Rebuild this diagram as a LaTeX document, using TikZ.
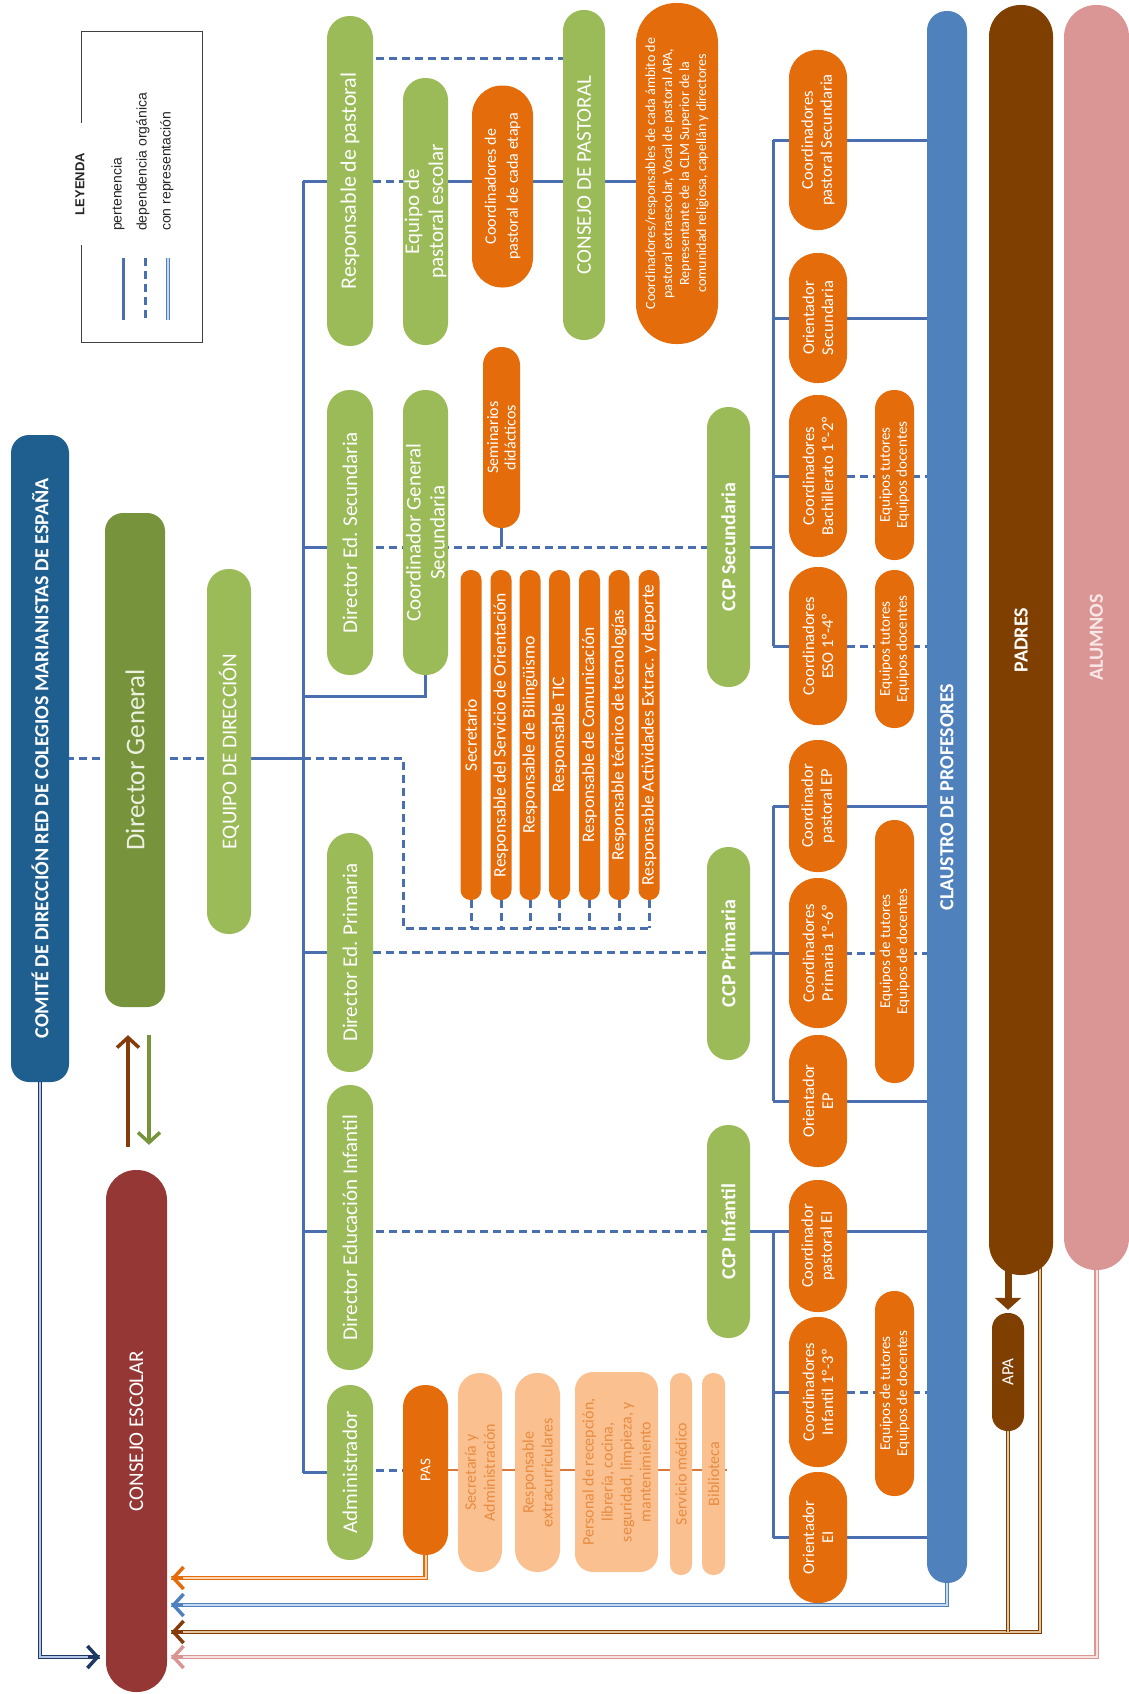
\documentclass[tikz,border=0pt]{standalone}
\usepackage{fontspec}
\setmainfont{Carlito}
\newfontfamily\legfont{Liberation Sans}
\usetikzlibrary{arrows.meta,calc,backgrounds}
\definecolor{comite}{HTML}{1F5F8F}
\definecolor{dgreen}{HTML}{77933C}
\definecolor{lgreen}{HTML}{9BBB59}
\definecolor{orng}{HTML}{E46C0A}
\definecolor{peach}{HTML}{FAC090}
\definecolor{peachtxt}{HTML}{E98B3F}
\definecolor{peachln}{HTML}{D9773A}
\definecolor{clblue}{HTML}{4F81BD}
\definecolor{padres}{HTML}{7F3F00}
\definecolor{brarrow}{HTML}{843C0C}
\definecolor{alumnos}{HTML}{D99694}
\definecolor{alutxt}{HTML}{F9E6E6}
\definecolor{consejo}{HTML}{953735}
\definecolor{conn}{HTML}{4A6FB0}
\definecolor{navy}{HTML}{1F3864}
\definecolor{navyin}{HTML}{B4C7E7}
\definecolor{orin}{HTML}{FCD5B4}
\definecolor{bluin}{HTML}{C6D9F1}
\definecolor{brin}{HTML}{E2C4A0}
\definecolor{pkin}{HTML}{F6E0E0}
\definecolor{dgtxt}{HTML}{EBF1DE}
\definecolor{legtxt}{HTML}{262626}
\newcommand\fsz[2]{\fontsize{#1pt}{#2pt}\selectfont}
\newcommand\mkbox[8]{\node[bx,minimum width=#5pt,minimum height=#4pt,rounded corners=#6pt,#7] (#1) at (#2,#3) {#8};}
\begin{document}
\begin{tikzpicture}[x=1pt,y=-1pt,
  bx/.style={rotate=90,inner sep=0pt,align=center,text=white,font=\fsz{21}{24}},
  grn/.style={fill=lgreen},
  org/.style={fill=orng,font=\fsz{16.5}{19}},
  pch/.style={fill=peach,text=peachtxt,font=\fsz{16}{19}},
  eqp/.style={fill=orng,font=\fsz{15}{17}},
  ccp/.style={fill=lgreen,font=\fsz{20}{24}\bfseries},
  sol/.style={draw=conn,line width=3pt},
  dsh/.style={draw=conn,line width=3pt,dash pattern=on 8pt off 5pt},
  dbl/.style 2 args={draw=#1,double=#2,double distance=2pt,line width=1.3pt},
  atip/.style={draw=#1,line width=3.5pt,-{Straight Barb[length=10pt,width=22pt]}},
]
\useasboundingbox (0,0) rectangle (1129,1694);

% ---------------- left part ----------------
\mkbox{CO}{40}{758.5}{58}{647}{18}{fill=comite,font=\fsz{20}{24}\bfseries}{COMITÉ DE DIRECCIÓN RED DE COLEGIOS MARIANISTAS DE ESPAÑA}
\mkbox{DG}{135}{760}{60}{494}{18}{fill=dgreen,text=dgtxt,font=\fsz{27}{30}}{Director General}
\mkbox{EQ}{229}{751.5}{44}{365}{21.5}{grn}{EQUIPO DE DIRECCIÓN}
\mkbox{CE}{136.5}{1431}{61}{522}{30}{fill=consejo}{CONSEJO ESCOLAR}

% ---------------- column 1 (green) ----------------
\mkbox{RP}{350}{181}{46}{330}{22.5}{grn,font=\fsz{22}{25}}{Responsable de pastoral}
\mkbox{DES}{350}{532.5}{46}{285}{22.5}{grn}{Director Ed. Secundaria}
\mkbox{DEP}{350}{952.5}{46}{239}{22.5}{grn}{Director Ed. Primaria}
\mkbox{DEI}{350}{1227.5}{46}{285}{22.5}{grn}{Director Educación Infantil}
\mkbox{ADM}{350}{1472.5}{46}{175}{22.5}{grn}{Administrador}

% ---------------- column 2 ----------------
\mkbox{EQP}{425.5}{211.5}{45}{267}{22}{grn}{Equipo de\\pastoral escolar}
\mkbox{CGS}{425.5}{532.5}{45}{285}{22}{grn}{Coordinador General\\Secundaria}
\mkbox{PAS}{425.5}{1470}{45}{170}{22}{org,font=\fsz{15}{18}}{PAS}

\mkbox{CDP}{502.5}{186.5}{61}{202}{30}{org,font=\fsz{16}{22}}{Coordinadores de\\pastoral de cada etapa}
\mkbox{SEM}{501.5}{437.5}{37}{181}{18}{org,font=\fsz{16}{17.5}}{Seminarios\\didácticos}
\mkbox{CP}{584}{175}{42}{330}{20.5}{grn}{CONSEJO DE PASTORAL}
\mkbox{BIG}{677}{173.5}{82}{341}{40}{org,font=\fsz{14}{17}}{Coordinadores/responsables de cada ámbito de\\pastoral extraescolar, Vocal de pastoral APA,\\Representante de la CLM Superior de la\\comunidad religiosa, capellán y directores}

% ---------------- responsables bars ----------------
\mkbox{B1}{471}{735}{21}{330}{10}{org,font=\fsz{17.5}{19}}{Secretario}
\mkbox{B2}{501}{735}{21}{330}{10}{org,font=\fsz{17.5}{19}}{Responsable del Servicio de Orientación}
\mkbox{B3}{530}{735}{21}{330}{10}{org,font=\fsz{17.5}{19}}{Responsable de Bilingüismo}
\mkbox{B4}{559.5}{735}{21}{330}{10}{org,font=\fsz{17.5}{19}}{Responsable TIC}
\mkbox{B5}{589.5}{735}{21}{330}{10}{org,font=\fsz{17.5}{19}}{Responsable de Comunicación}
\mkbox{B6}{619}{735}{21}{330}{10}{org,font=\fsz{17.5}{19}}{Responsable técnico de tecnologías}
\mkbox{B7}{649}{735}{21}{330}{10}{org,font=\fsz{17.5}{19}}{Responsable Actividades Extrac. y deporte}

% ---------------- CCP ----------------
\mkbox{CCPS}{728.5}{547}{43}{280}{21}{ccp}{CCP Secundaria}
\mkbox{CCPP}{728.5}{953.5}{43}{213}{21}{ccp}{CCP Primaria}
\mkbox{CCPI}{728.5}{1231.5}{43}{213}{21}{ccp}{CCP Infantil}

% ---------------- orange coordinators ----------------
\mkbox{CPSe}{818}{140}{58}{180}{28}{org}{Coordinadores\\pastoral Secundaria}
\mkbox{OSe}{818}{318}{58}{130}{28}{org}{Orientador\\Secundaria}
\mkbox{BACH}{818}{476}{58}{162}{28}{org}{Coordinadores\\Bachillerato 1º-2º}
\mkbox{ESO}{818}{646}{58}{158}{28}{org}{Coordinadores\\ESO 1º-4º}
\mkbox{CPEP}{818}{806}{58}{132}{28}{org}{Coordinador\\pastoral EP}
\mkbox{CPRI}{818}{953}{58}{150}{28}{org}{Coordinadores\\Primaria 1º-6º}
\mkbox{OEP}{818}{1101}{58}{132}{28}{org}{Orientador\\EP}
\mkbox{CPEI}{818}{1246}{58}{132}{28}{org}{Coordinador\\pastoral EI}
\mkbox{CINF}{818}{1392}{58}{150}{28}{org}{Coordinadores\\Infantil 1º-3º}
\mkbox{OEI}{818}{1537.5}{58}{131}{28}{org}{Orientador\\EI}

\mkbox{EQB}{894.5}{475}{39}{170}{19}{eqp}{Equipos tutores\\Equipos docentes}
\mkbox{EQE}{894.5}{649}{39}{158}{19}{eqp}{Equipos tutores\\Equipos docentes}
\mkbox{EQPR}{894.5}{951.5}{39}{263}{19}{eqp}{Equipos de tutores\\Equipos de docentes}
\mkbox{EQI}{894.5}{1393.5}{39}{205}{19}{eqp}{Equipos de tutores\\Equipos de docentes}

% ---------------- big columns ----------------
\mkbox{CL}{947}{797}{40}{1572}{19.5}{fill=clblue,font=\fsz{20}{24}\bfseries}{CLAUSTRO DE PROFESORES}
\mkbox{PA}{1021}{640}{64}{1270}{31.5}{fill=padres,font=\fsz{20}{24}\bfseries}{PADRES}
\mkbox{AL}{1096.5}{637.5}{65}{1265}{32}{fill=alumnos,text=alutxt,font=\fsz{20}{24}\bfseries}{ALUMNOS}
\mkbox{APA}{1008}{1372}{32}{118}{15.5}{fill=padres,font=\fsz{17}{20}}{APA}

% ---------------- PAS staff ----------------
\mkbox{SA}{480}{1472.5}{44}{199}{21.5}{pch}{Secretaría y\\Administración}
\mkbox{RE}{537.5}{1472.5}{45}{199}{22}{pch}{Responsable\\extracurriculares}
\mkbox{PR}{616.5}{1472}{83}{200}{18}{pch}{Personal de recepción,\\librería, cocina,\\seguridad, limpieza, y\\mantenimiento}
\mkbox{SM}{681}{1474}{22}{202}{10.5}{pch}{Servicio médico}
\mkbox{BIB}{713.5}{1474}{23}{202}{11}{pch}{Biblioteca}

% ---------------- legend ----------------
\draw[black!75,line width=1pt] (81,32) rectangle (202,342);
\node[rotate=90,fill=white,minimum width=122pt,inner sep=2pt,text=legtxt,font=\legfont\fsz{13}{15}\bfseries] (LEG) at (80,184) {LEYENDA};
\node[rotate=90,anchor=west,inner sep=0pt,text=legtxt,font=\legfont\fsz{14}{15}] (L1) at (118,231) {pertenencia};
\node[rotate=90,anchor=west,inner sep=0pt,text=legtxt,font=\legfont\fsz{14}{15}] (L2) at (143,231) {dependencia orgánica};
\node[rotate=90,anchor=west,inner sep=0pt,text=legtxt,font=\legfont\fsz{14}{15}] (L3) at (167,231) {con representación};
\draw[sol] (123,258) -- (123,320);
\draw[dsh] (145,258) -- (145,320);
\draw[dbl={clblue}{bluin}] (168,258) -- (168,320);

% ---------------- arrows between nodes (foreground) ----------------
\draw[draw=brarrow,line width=3.5pt,-{Straight Barb[length=10pt,width=22pt]},shorten <=23pt,shorten >=28pt] (CE.east -| 128,0) -- (DG.west -| 128,0);
\draw[draw=dgreen,line width=3.5pt,-{Straight Barb[length=10pt,width=22pt]},shorten <=28pt,shorten >=25pt] (DG.west -| 149,0) -- (CE.east -| 149,0);
\draw[draw=padres,line width=7pt,-{Triangle[length=12pt,width=26pt]},shorten >=3pt] ($(PA.west -| APA)+(0,-8)$) -- (APA.east);

% ---------------- connectors (background) ----------------
\coordinate (sp) at (303,758);
\coordinate (elb) at (403,928);
\coordinate (bs) at (773,547);
\coordinate (bp) at (773,953);
\coordinate (bi) at (773,1231.5);
\coordinate (tO) at ($(CE.south |- 0,1578)+(4,0)$);
\coordinate (tB) at ($(CE.south |- 0,1605)+(4,0)$);
\coordinate (tR) at ($(CE.south |- 0,1632)+(4,0)$);
\coordinate (tP) at ($(CE.south |- 0,1657)+(4,0)$);
\coordinate (tN) at ($(CE.north |- 0,1657)+(-6,0)$);

\begin{pgfonlayer}{background}
\fill[white] (0,0) rectangle (1129,1694);
% top level
\draw[dsh] (CO |- sp) -- (EQ |- sp);
\draw[sol] (EQ |- sp) -- (sp);
% spine
\draw[sol] (sp |- RP) -- (sp |- ADM);
\draw[sol] (sp |- RP) -- (RP);
\draw[sol] (sp |- CCPS) -- (DES |- CCPS);
\draw[sol] (sp |- 0,696) -| (CGS);
\draw[sol] (sp |- DEP) -- (DEP);
\draw[sol] (sp |- CCPI) -- (DEI |- CCPI);
\draw[sol] (sp |- ADM) -- (ADM);
% responsables
\draw[dsh] (sp) -| (elb) -- (B7 |- elb);
\foreach \b in {B1,B2,B3,B4,B5,B6,B7} \draw[dsh] (\b) -- (\b |- elb);
% pastoral
\draw[dsh] (RP |- 0,59) -- (CP |- 0,59);
\draw[dsh] (RP) -- (EQP |- RP);
\draw[sol] (EQP |- RP) -- (BIG |- RP);
% directors to CCP
\draw[dsh] (DES |- CCPS) -- (CCPS);
\draw[sol] (SEM) -- (SEM |- CCPS);
\draw[dsh] (DEP) -- (CCPP |- DEP);
\draw[dsh] (DEI |- CCPI) -- (CCPI);
% secundaria
\draw[sol] (CCPS) -- (bs);
\draw[sol] (bs |- CPSe) -- (bs |- ESO);
\draw[sol] (bs |- CPSe) -- (CL |- CPSe);
\draw[sol] (bs |- OSe) -- (CL |- OSe);
\draw[sol] (bs |- BACH) -- (BACH);
\draw[dsh] (BACH) -- (CL |- BACH);
\draw[sol] (bs |- ESO) -- (ESO);
\draw[dsh] (ESO) -- (CL |- ESO);
% primaria
\draw[sol] (CCPP) -- (bp);
\draw[sol] (bp |- CPEP) -- (bp |- OEP);
\draw[sol] (bp |- CPEP) -- (CL |- CPEP);
\draw[sol] (bp |- OEP) -- (CL |- OEP);
\draw[sol] (bp) -- (CPRI |- bp);
\draw[dsh] (CPRI |- bp) -- (CL |- bp);
% infantil
\draw[sol] (CCPI) -- (bi);
\draw[sol] (bi) -- (bi |- OEI);
\draw[sol] (bi) -- (CL |- bi);
\draw[sol] (bi |- CINF) -- (CINF);
\draw[dsh] (CINF) -- (CL |- CINF);
\draw[sol] (bi |- OEI) -- (CL |- OEI);
% PAS
\draw[dsh] (ADM |- PAS) -- (PAS);
\draw[draw=peachln,line width=2.5pt] (PAS) -- ($(BIB.south |- PAS)+(2,0)$);
% representation to consejo escolar
\draw[dbl={orng}{orin}] (PAS) |- (tO);
\draw[dbl={clblue}{bluin}] (CL) |- (tB);
\draw[dbl={padres}{brin}] ($(PA)+(19,0)$) |- (tR);
\draw[dbl={padres}{brin}] (APA) -- (APA |- tR);
\draw[dbl={alumnos}{pkin}] (AL) |- (tP);
\draw[dbl={navy}{navyin}] (CO) |- (tN);
\draw[atip=orng] ($(tO)+(12,0)$) -- (tO);
\draw[atip=clblue] ($(tB)+(12,0)$) -- (tB);
\draw[atip=brarrow] ($(tR)+(12,0)$) -- (tR);
\draw[atip=alumnos] ($(tP)+(12,0)$) -- (tP);
\draw[atip=navy] ($(tN)+(-12,0)$) -- (tN);
\end{pgfonlayer}
\end{tikzpicture}
\end{document}
